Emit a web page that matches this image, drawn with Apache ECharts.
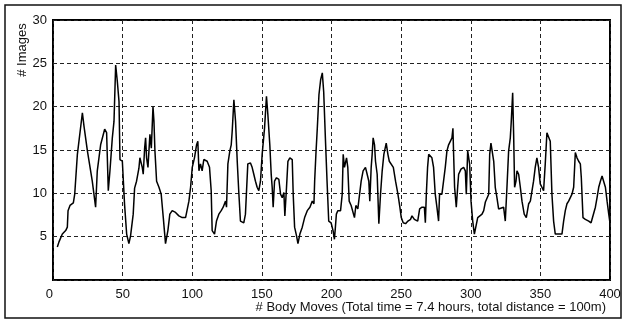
<!DOCTYPE html>
<html>
<head>
<meta charset="utf-8">
<script src="https://cdn.jsdelivr.net/npm/echarts@6/dist/echarts.min.js"></script>
<style>
  html, body {margin: 0; padding: 0; background: #fff;}
  #chart {width: 626px; height: 322px;}
</style>
</head>
<body>
<div id="chart"></div>
<script>
// body move index (x) and number of images (y)
const moves = [
  3.1, 4.3, 6.7, 9.1, 10.3, 10.8, 12.2, 14.6, 15.6, 17.5, 21.1, 22.3, 24.7, 28.2, 30.6, 31.8, 34.2, 37.1, 38.5, 39.7,
  40.9, 42.6, 43.8, 45.0, 46.2, 47.4, 48.1, 49.8, 51.4, 52.9, 54.5, 55.7, 57.6, 58.6, 60.0, 61.7, 62.4,
  64.1, 64.8, 65.8, 66.5, 67.2, 68.2, 69.6, 70.6, 71.8, 72.5, 73.2, 74.4, 76.1, 77.7, 79.2, 80.8, 82.5, 83.9, 85.6,
  88.0, 90.4, 92.8, 95.2, 96.4, 97.6, 98.8, 100.0, 101.6, 103.1, 104.0, 104.8, 105.9, 107.1, 108.3, 110.7, 112.4,
  113.6, 114.3, 116.0, 117.4, 119.1, 120.8, 122.2, 123.9, 124.6, 125.6, 127.0, 128.0, 128.7, 129.9,
  131.1, 132.3, 133.5, 134.6, 137.0, 138.2, 139.9, 141.8, 143.0, 144.2, 145.4, 146.6, 147.8, 149.0, 150.2, 151.9,
  153.3, 154.3, 155.7, 156.7, 157.4, 158.1, 159.1, 160.5, 162.2, 163.4, 164.6, 165.8, 166.5, 167.7, 168.7, 170.1,
  171.8, 172.5, 173.5, 174.9, 175.9, 177.3, 179.0, 180.7, 182.6, 184.5, 186.2, 187.4, 187.9, 188.8, 189.8, 191.0,
  192.2, 193.4,
  194.4, 195.6, 196.8, 198.0, 199.7, 201.1, 202.1, 202.8, 203.5, 204.5, 206.5, 207.7, 208.4, 209.3, 210.8, 211.7,
  212.7, 214.1, 215.5, 216.5, 217.5, 218.9, 220.3, 221.3, 222.7, 224.4, 225.6, 226.8, 227.5, 228.5, 229.2, 229.9,
  230.9, 231.6, 232.8, 234.0, 235.2, 236.4, 237.6, 239.3, 240.5, 241.5, 242.9, 244.4, 246.0, 247.7, 249.1, 250.1,
  251.5, 253.2, 254.9, 256.8,
  257.8, 259.5, 260.9, 261.9, 263.3, 265.0, 266.7, 267.4, 268.1, 269.0, 269.8, 271.0, 272.1, 273.3, 274.5, 275.7,
  276.9, 277.6, 279.3, 280.5, 281.7, 282.9, 284.1, 285.3, 286.5, 287.2, 287.7, 288.4, 289.6, 290.6, 291.3, 293.0,
  294.9, 296.1, 296.8, 297.8, 298.5, 299.2, 300.2, 301.4, 302.6, 304.0, 305.0, 306.4, 308.1, 309.3, 310.5, 311.7,
  312.9, 313.6, 314.5, 315.3, 316.5, 317.6, 318.8, 320.0, 321.2,
  323.6, 324.8, 326.0, 327.2, 328.4, 329.1, 330.1, 330.8, 331.5, 332.5, 333.2, 334.4, 335.6, 336.8, 338.4, 339.9,
  341.6, 342.8, 344.0, 345.1, 346.3, 347.5, 348.7, 349.9, 351.1, 352.3, 353.5, 354.7, 355.9, 357.1, 358.3, 359.5,
  360.7, 363.1, 365.5, 366.7, 367.9, 369.1, 370.3, 371.5, 372.7, 373.9, 375.1, 376.3, 377.5, 378.7, 379.4, 380.6,
  382.3, 384.7, 386.4, 387.8, 389.5, 390.7, 391.9, 393.1, 394.3, 395.5, 396.7, 397.9, 399.1, 399.8
];
const images = [
  3.8, 4.4, 5.3, 5.7, 6.1, 8.0, 8.6, 8.9, 9.9, 14.5, 19.3, 17.7, 14.9, 11.4, 8.4, 12.6, 15.6, 17.4, 17.0, 10.3,
  12.6, 16.4, 18.3, 24.8, 22.9, 20.6, 13.9, 13.7, 8.7, 5.3, 4.2, 5.1, 7.6, 10.6, 11.4, 12.9, 14.1,
  13.0, 12.2, 15.2, 16.4, 14.1, 13.0, 16.8, 15.2, 20.0, 18.3, 14.9, 11.4, 10.7, 9.9, 7.2, 4.2, 5.7, 7.6, 8.0,
  7.8, 7.4, 7.2, 7.2, 7.0, 9.1, 10.7, 13.0, 14.1, 15.6, 16.0, 12.6, 13.4, 12.6, 13.9, 13.7, 13.0,
  10.3, 5.7, 5.3, 6.8, 7.6, 8.0, 8.4, 9.1, 8.4, 13.4, 14.9, 15.6, 17.2, 20.8,
  18.3, 13.7, 9.9, 6.8, 6.6, 7.6, 13.4, 13.5, 13.0, 12.2, 11.4, 10.7, 10.3, 11.4, 14.5, 17.5,
  21.2, 19.1, 15.6, 12.2, 10.7, 8.4, 11.4, 11.8, 11.6, 9.9, 9.5, 10.1, 7.4, 10.7, 13.7, 14.1,
  13.9, 9.9, 6.1, 5.1, 4.2, 5.3, 6.1, 7.2, 8.0, 8.4, 9.1, 8.8, 11.4, 14.5, 17.5, 21.4,
  23.1, 23.9,
  21.7, 16.4, 11.4, 6.8, 6.6, 5.7, 4.7, 6.1, 7.6, 8.0, 8.0, 9.9, 14.5, 13.0, 14.1, 13.0,
  9.1, 8.6, 8.8, 7.2, 8.6, 8.2, 8.4, 11.4, 12.6, 13.0, 12.2, 11.4, 9.1, 13.0, 14.5, 16.4,
  15.6, 13.7, 12.2, 6.5, 9.9, 12.6, 14.5, 15.8, 14.5, 13.7, 13.7, 13.0, 11.4, 9.9, 8.4, 7.2,
  6.6, 6.5, 6.8, 7.0,
  7.4, 7.0, 7.2, 6.8, 8.2, 8.4, 8.4, 6.6, 9.9, 13.0, 14.5, 14.3, 14.1, 13.0, 9.9, 8.4,
  6.8, 9.9, 9.9, 10.1, 13.0, 14.9, 15.6, 16.0, 16.4, 17.5, 14.5, 10.7, 8.4, 10.7, 12.2, 12.8,
  13.0, 12.6, 9.9, 14.9, 15.1, 13.4, 9.1, 6.8, 5.3, 5.5, 7.2, 7.4, 7.6, 8.0, 9.0, 9.1,
  9.9, 14.5, 15.8, 16.0, 13.7, 10.7, 9.5, 8.2, 8.4,
  8.4, 6.8, 10.7, 14.9, 16.4, 18.3, 21.6, 16.8, 10.7, 11.4, 12.6, 12.2, 10.7, 9.1, 7.6, 7.2,
  8.8, 9.1, 9.1, 11.4, 13.0, 14.1, 13.0, 11.1, 10.7, 10.3, 13.4, 17.0, 17.2, 16.0, 9.9, 6.8,
  5.3, 5.3, 5.3, 6.8, 8.0, 8.8, 9.1, 9.5, 9.9, 10.7, 14.7, 14.1, 13.7, 13.4, 11.8, 7.2,
  7.0, 6.8, 6.6, 6.8, 8.4, 9.5, 10.7, 11.4, 12.0, 11.8, 10.7, 9.1, 7.6, 6.8
];
const xTicks = {min: 0, max: 400, step: 50};
const yTicks = {min: 0, max: 30, step: 5};

const chart = echarts.init(document.getElementById('chart'));
const font = 'Liberation Sans, Arial, sans-serif';
const gridLine = {show: true, lineStyle: {color: '#222', type: [4, 3], width: 1}};

chart.setOption({
    animation: false,
    backgroundColor: '#fff',
    textStyle: {fontFamily: font, color: '#111'},
    grid: {
        left: 53, right: 16, top: 20, bottom: 42,
        show: true, borderColor: '#000', borderWidth: 2
    },
    xAxis: {
        type: 'value',
        min: xTicks.min, max: xTicks.max, interval: xTicks.step,
        axisLine: {show: false},
        axisTick: {show: false},
        splitLine: gridLine,
        axisLabel: {fontSize: 13, color: '#111', margin: 8, fontFamily: font, alignMinLabel: 'right'},
        name: '# Body Moves (Total time = 7.4 hours, total distance = 100m)',
        nameLocation: 'end',
        nameGap: -4,
        nameTextStyle: {
            fontSize: 13, color: '#111', fontFamily: font,
            align: 'right', verticalAlign: 'top', padding: [21, 0, 0, 0]
        }
    },
    yAxis: {
        type: 'value',
        min: yTicks.min, max: yTicks.max, interval: yTicks.step,
        axisLine: {show: false},
        axisTick: {show: false},
        splitLine: gridLine,
        axisLabel: {
            fontSize: 13, color: '#111', margin: 6, fontFamily: font,
            formatter: v => (v === 0 ? '' : String(v))
        }
    },
    graphic: [
        {
            type: 'rect', silent: true, z: -1,
            shape: {x: 5, y: 5, width: 616, height: 313},
            style: {fill: 'none', stroke: '#111', lineWidth: 1.5}
        },
        {
            type: 'text', x: 22, y: 50, rotation: Math.PI / 2,
            style: {
                text: '# Images', fontSize: 13, fontFamily: font, fill: '#111',
                align: 'center', verticalAlign: 'middle'
            }
        }
    ],
    series: [{
        type: 'line',
        data: moves.map((m, i) => [m, images[i]]),
        showSymbol: false,
        lineStyle: {color: '#000', width: 1.5},
        z: 5
    }]
});
</script>
</body>
</html>
